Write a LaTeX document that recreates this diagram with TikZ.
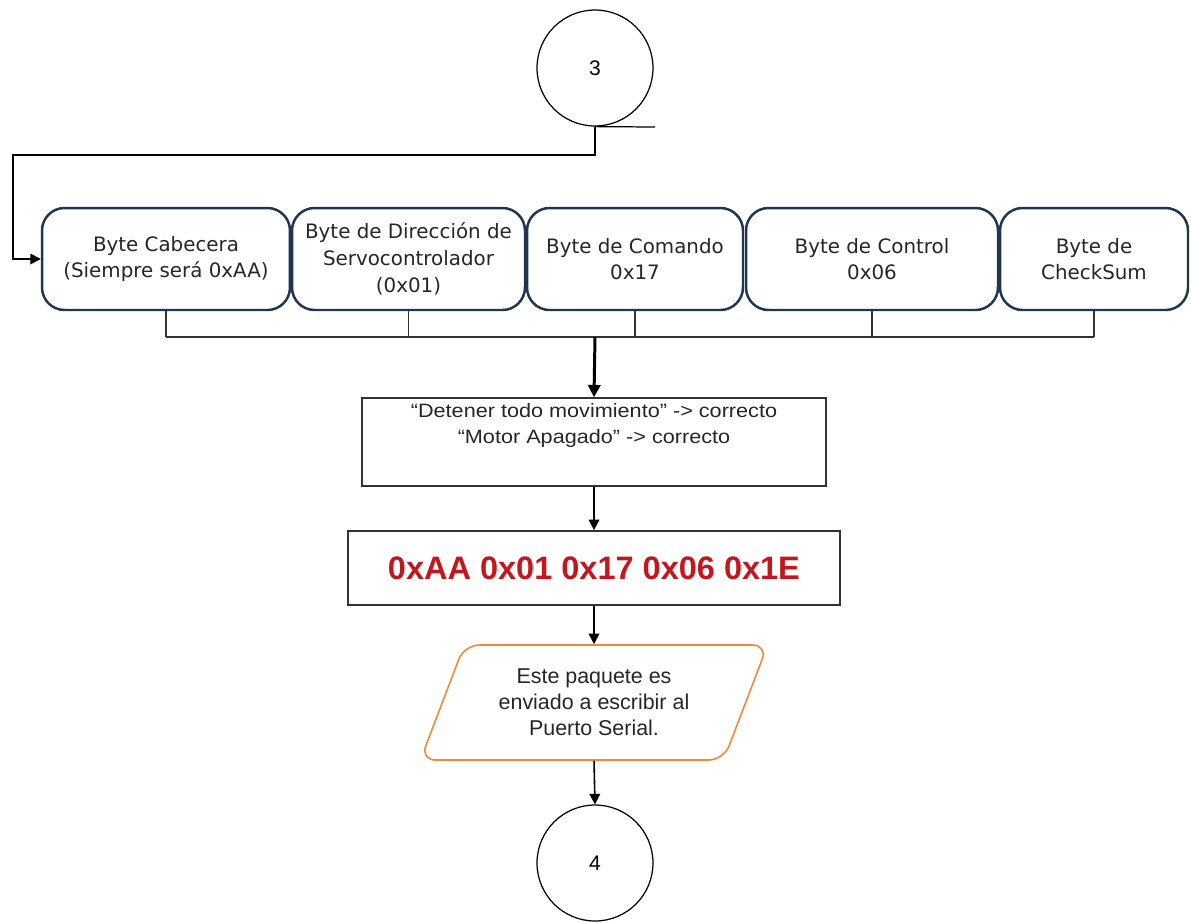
\documentclass[tikz,border=0pt]{standalone}
\usepackage{fontspec}
\setmainfont{Liberation Sans}
\newfontfamily\bytefont{DejaVu Sans}
\newfontfamily\widefont[FakeStretch=1.12]{Liberation Sans}
\usetikzlibrary{arrows.meta,shapes.geometric}
\definecolor{navy}{HTML}{1F3550}
\definecolor{pktred}{HTML}{C4161C}
\definecolor{ioorange}{HTML}{F0883A}
\begin{document}
\begin{tikzpicture}[x=0.02cm,y=-0.02cm,
  bytebox/.style={draw=navy,line width=1.4pt,rounded corners=0.45cm,
    minimum height=2.04cm,align=center,font=\bytefont\fontsize{11.3}{15.2}\selectfont,
    text=black!85,inner sep=1pt},
  plainbox/.style={draw=black!80,line width=0.9pt},
  connector/.style={draw,circle,line width=0.7pt,minimum size=2.32cm,
    font=\fontsize{12}{14}\selectfont},
  flow/.style={line width=0.9pt,-{Triangle[length=6pt,width=6pt]}},
  bus/.style={line width=0.7pt,draw=black!80}]
\useasboundingbox (0,0) rectangle (1191,921);

% off-page connectors
\node[connector] (c3) at (595,68) {3};
\node[connector] (c4) at (595,863) {4};
\coordinate (stub) at (655,127);
\draw[line width=0.7pt] (c3.south) -- (stub);

% the five bytes of the packet
\node[bytebox,minimum width=4.96cm] (b1) at (166,259) {Byte Cabecera\\(Siempre será 0xAA)};
\node[bytebox,minimum width=4.66cm] (b2) at (408.5,259) {Byte de Dirección de\\Servocontrolador\\(0x01)};
\node[bytebox,minimum width=4.32cm] (b3) at (635,259) {Byte de Comando\\0x17};
\node[bytebox,minimum width=5.04cm] (b4) at (872,259) {Byte de Control\\0x06};
\node[bytebox,minimum width=3.76cm] (b5) at (1094,259) {Byte de\\CheckSum};

% entry from connector 3
\coordinate (turn) at (13,155);
\draw[flow] (c3.south) |- (turn) |- (b1.west);

% bus collecting the bytes
\coordinate (bus) at (595,337);
\foreach \b in {b1,b2,b3,b4,b5}
  \draw[bus] (\b.south) -- (\b.south |- bus);
\draw[bus] (b1.south |- bus) -- (b5.south |- bus);

% validation box
\node[plainbox,minimum width=9.28cm,minimum height=1.76cm] (b6) at (594,442) {};
\node[anchor=north,align=center,font=\widefont\fontsize{11}{15}\selectfont,inner sep=0pt,text=black!85]
  (b6t) at ([yshift=-0.12cm]b6.north)
  {“Detener todo movimiento” -> correcto\\“Motor Apagado” -> correcto};
\draw[line width=1.7pt,-{Triangle[length=7pt,width=7pt]}] (bus) -- (b6.north);

% resulting packet
\node[plainbox,minimum width=9.84cm,minimum height=1.48cm,text=pktred,
  font=\bfseries\fontsize{18.5}{21}\selectfont] (b7) at (594,568) {0xAA 0x01 0x17 0x06 0x1E};
\draw[flow] (b6.south) -- (b7.north);

% output to the serial port
\node[trapezium,trapezium stretches=true,trapezium left angle=66.5,trapezium right angle=113.5,
  draw=ioorange,line width=0.9pt,rounded corners=0.3cm,
  minimum width=6.95cm,minimum height=2.3cm,align=center,text=black!85,
  font=\fontsize{12.2}{14.8}\selectfont] (io) at (594,702.5)
  {Este paquete es\\enviado a escribir al\\Puerto Serial.};
\draw[flow] (b7.south) -- (io.north);
\draw[flow] (io.south) -- (c4.north);
\end{tikzpicture}
\end{document}
